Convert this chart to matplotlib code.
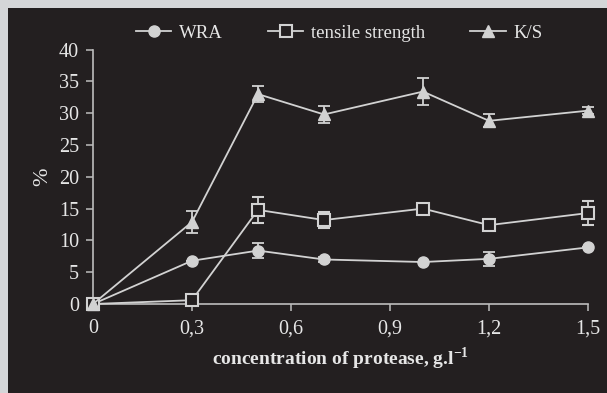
import matplotlib
matplotlib.use('Agg')
import matplotlib.pyplot as plt
from matplotlib.patches import Rectangle
from matplotlib.lines import Line2D

font = {'family': 'Liberation Serif', 'size': 14}
matplotlib.rc('font', **font)

# protease concentration, g/l
conc = [0, 0.3, 0.5, 0.7, 1.0, 1.2, 1.5]

wra = [0, 6.8, 8.4, 7.0, 6.6, 7.1, 8.9]
wra_err = [0, 0, 1.2, 0.4, 0, 1.1, 0]

tensile = [0, 0.6, 14.8, 13.2, 15.0, 12.4, 14.3]
tensile_err = [0, 0, 2.0, 1.3, 0, 0.5, 1.9]

ks = [0, 12.9, 33.0, 29.8, 33.4, 28.8, 30.4]
ks_err = [0, 1.8, 1.2, 1.4, 2.1, 1.0, 0.6]

xticks = [0, 0.3, 0.6, 0.9, 1.2, 1.5]
xtick_labels = ['0', '0,3', '0,6', '0,9', '1,2', '1,5']
yticks = [0, 5, 10, 15, 20, 25, 30, 35, 40]

bg = '#231f20'
fg = '#d2d2d2'
W, H = 607, 393

fig = plt.figure(figsize=(W / 100, H / 100), dpi=100)
fig.patch.set_facecolor('#d4d6d8')
fig.patches.append(Rectangle((8 / W, 0), 1, 1 - 8 / H, transform=fig.transFigure,
                             facecolor=bg, edgecolor='none', zorder=-10))

ax = fig.add_axes([93 / W, (H - 304) / H, (588 - 93) / W, (304 - 49.6) / H])
ax.patch.set_alpha(0)

style = dict(color=fg, lw=1.3, capsize=4, elinewidth=1.3, capthick=1.3, clip_on=False)
h1 = ax.errorbar(conc, wra, yerr=wra_err, marker='o', markersize=8, **style)
h2 = ax.errorbar(conc, tensile, yerr=tensile_err, marker='s', markersize=8,
                 markerfacecolor=bg, markeredgecolor=fg, markeredgewidth=1.5, **style)
h3 = ax.errorbar(conc, ks, yerr=ks_err, marker='^', markersize=9, **style)
for h in (h1, h2, h3):
    for art in h.lines[1] + h.lines[2]:
        art.set_clip_on(False)
    h.lines[0].set_zorder(5)

ax.set_xlim(0, 1.5)
ax.set_ylim(0, 40)
ax.set_xticks(xticks)
ax.set_xticklabels(xtick_labels)
ax.set_yticks(yticks)
for s in ('top', 'right'):
    ax.spines[s].set_visible(False)
for s in ('left', 'bottom'):
    ax.spines[s].set_color('#bdbdbd')
    ax.spines[s].set_linewidth(1.2)
ax.tick_params(colors='#bdbdbd', labelcolor='#e6e6e6', labelsize=14.5,
               length=5, width=1.1)
ax.tick_params(axis='x', pad=6)
ax.tick_params(axis='y', pad=5)

ax.set_xlabel('concentration of protease, g.l$^{\\mathregular{-1}}$', color='#e6e6e6',
              fontsize=14, fontweight='bold', labelpad=5)
ax.set_ylabel('%', color='#e6e6e6', fontsize=16, labelpad=5)

handles = [
    Line2D([], [], color=fg, lw=1.3, marker='o', markersize=8),
    Line2D([], [], color=fg, lw=1.3, marker='s', markersize=8,
           markerfacecolor=bg, markeredgecolor=fg, markeredgewidth=1.5),
    Line2D([], [], color=fg, lw=1.3, marker='^', markersize=9),
]
leg = fig.legend(handles=handles, labels=['WRA', 'tensile strength', 'K/S'],
                 loc='center', ncol=3, frameon=False,
                 bbox_to_anchor=(339 / W, 1 - 33 / H), fontsize=13.5,
                 handlelength=1.9, handletextpad=0.4, columnspacing=2.4)
for t in leg.get_texts():
    t.set_color('#e6e6e6')

fig.savefig('out.png', dpi=100, facecolor=fig.get_facecolor())
